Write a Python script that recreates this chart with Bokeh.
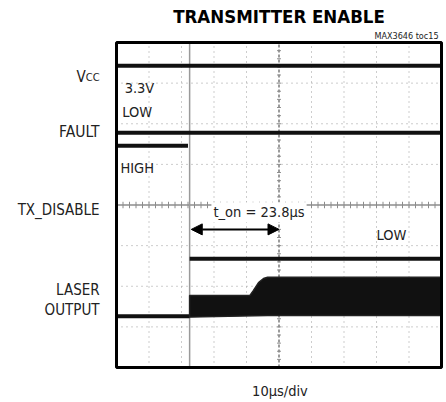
import numpy as np
from bokeh.plotting import figure
from bokeh.models import Label, Arrow, NormalHead, Range1d
from bokeh.embed import file_html
from bokeh.resources import INLINE

# horizontal: time in microseconds (10 us/div), vertical: scope divisions
x_lo, x_hi = -50, 50
y_lo, y_hi = -4, 4
grid_x = [-40, -30, -20, -10, 10, 20, 30, 40]
grid_y = [-3, -2, -1, 1, 2, 3]

edge_t = -27.5

vcc_t = [-50, 50]
vcc_v = [3.43, 3.43]

fault_low_t = [-50, 50]
fault_low_v = [1.78, 1.78]
fault_high_t = [-50, -28]
fault_high_v = [1.46, 1.46]

txd_low_t = [-27.5, 50]
txd_low_v = [-1.32, -1.32]

laser_low_t = [-50, -27.5]
laser_low_v = [-2.74, -2.74]

laser_band_t = [-27.5, -27.5, -9.0, -7.85, -6.3, -4.77, -3.5, 50, 50, -3.5, -27.5]
laser_band_v = [-2.76, -2.23, -2.23, -2.10, -1.91, -1.81, -1.78, -1.78, -2.72, -2.72, -2.76]

ton_start, ton_end, ton_level = -27.0, 0.0, -0.6

FONT = "DejaVu Sans Condensed, Roboto"

# scope screen occupies canvas px 116..441 (x) and 42..367 (y)
px_x = 325 / (x_hi - x_lo)
px_y = 325 / (y_hi - y_lo)
p = figure(width=446, height=402, output_backend="svg", toolbar_location=None,
           x_axis_location=None, y_axis_location=None,
           x_range=Range1d(x_lo - 116 / px_x, x_hi + 5 / px_x),
           y_range=Range1d(y_lo - 35 / px_y, y_hi + 42 / px_y),
           min_border=0)
p.outline_line_color = None
p.background_fill_color = "white"
p.border_fill_color = "white"
p.grid.visible = False

# dotted graticule
p.segment(x0=grid_x, y0=y_lo, x1=grid_x, y1=y_hi, line_color="#9a9a9a", line_dash="1 4", line_width=1)
p.segment(x0=x_lo, y0=grid_y, x1=x_hi, y1=grid_y, line_color="#9a9a9a", line_dash="1 4", line_width=1)

# centre graticule axes with minor ticks
p.line([x_lo, x_hi], [0, 0], line_color="#8c8c8c", line_width=1.5)
p.line([0, 0], [y_lo, y_hi], line_color="#7a7a7a", line_width=1.5, line_dash="3 2")
mx = np.arange(-50, 50.01, 2.0)
my = np.arange(-4, 4.01, 0.2)
p.segment(x0=mx, y0=-0.08, x1=mx, y1=0.08, line_color="#8c8c8c", line_width=1)
p.segment(x0=-0.6, y0=my, x1=0.6, y1=my, line_color="#8c8c8c", line_width=1)

# trigger edge line
p.line([edge_t, edge_t], [y_lo, y_hi], line_color="#9a9a9a", line_width=1.5)

tr = dict(line_color="#111111", line_width=4)
p.line(vcc_t, vcc_v, **tr)
p.line(fault_low_t, fault_low_v, **tr)
p.line(fault_high_t, fault_high_v, **tr)
p.line(txd_low_t, txd_low_v, **tr)
p.line(laser_low_t, laser_low_v, **tr)
p.patch(laser_band_t, laser_band_v, fill_color="#111111", line_color="#222222", line_width=1.5)

p.add_layout(Arrow(start=NormalHead(size=11, fill_color="black", line_color="black"),
                   end=NormalHead(size=11, fill_color="black", line_color="black"),
                   x_start=ton_start, y_start=ton_level, x_end=ton_end, y_end=ton_level,
                   line_width=2, line_color="black"))

# screen border
p.quad(left=[x_lo], right=[x_hi], bottom=[y_lo], top=[y_hi], fill_color=None,
       line_color="black", line_width=3)

def lab(text, x, y, size, align="left", baseline="middle", style="normal", bg=None, color="#222222"):
    kw = {}
    if bg:
        kw = dict(background_fill_color=bg, padding=2)
    p.add_layout(Label(x=x, y=y, text=text, text_font=FONT, text_font_size=f"{size}px",
                       text_align=align, text_baseline=baseline, text_font_style=style,
                       text_color=color, **kw))

lab("TRANSMITTER ENABLE", 0, 4.64, 18.5, align="center", style="bold", color="black")
lab("MAX3646 toc15", 49.1, 4.15, 9, align="right")
lab("10\u03bcs/div", 0.3, -4.57, 14.5, align="center")

lab("V", -59.5, 3.16, 15, align="right", baseline="alphabetic")
lab("CC", -55.2, 3.13, 11, align="right", baseline="alphabetic")
lab("FAULT", -55.2, 1.80, 15.5, align="right")
lab("TX_DISABLE", -55.2, -0.135, 15, align="right")
lab("LASER", -55.2, -2.09, 15, align="right")
lab("OUTPUT", -55.2, -2.585, 15, align="right")

lab("3.3V", -47.5, 2.89, 14.5)
lab("LOW", -48.2, 2.28, 14.5)
lab("HIGH", -48.8, 0.90, 14.5)
lab("LOW", 30.0, -0.75, 14.5)
lab("t_on = 23.8\u03bcs", -20.8, -0.18, 14.5, bg="white")

open("out.html", "w").write(file_html(p, INLINE))
